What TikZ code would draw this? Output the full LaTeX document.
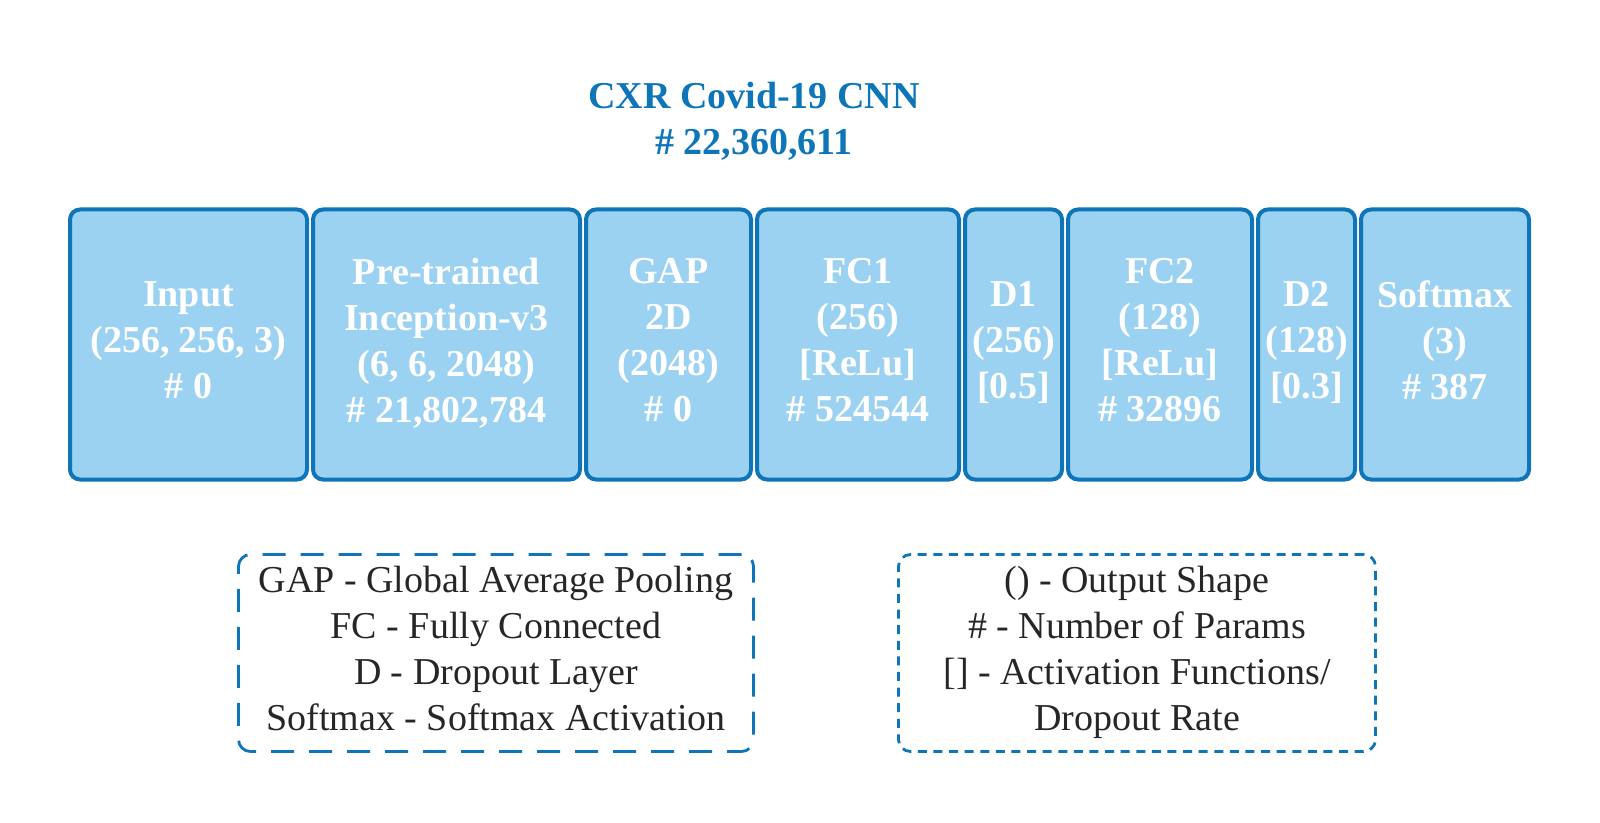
\documentclass[tikz,border=0pt]{standalone}
\usepackage{fontspec}
\setmainfont{Liberation Serif}
\usepackage{tikz}
\usetikzlibrary{positioning}

\definecolor{layerfill}{RGB}{155,209,241}
\definecolor{layerline}{RGB}{14,117,185}
\definecolor{legendtext}{RGB}{38,38,38}

\begin{document}
\begin{tikzpicture}[x=0.5pt,y=-0.5pt,
    layer/.style={draw=layerline,fill=layerfill,line width=2pt,rounded corners=5pt,
        minimum height=135pt,align=center,text=white,inner sep=0pt,outer sep=0pt,
        text depth=4.5pt,font=\fontsize{19}{23}\selectfont\bfseries},
    legendbox/.style={draw=layerline,line width=1.4pt,rounded corners=6pt,
        minimum height=98.5pt,align=center,text=legendtext,inner sep=0pt,
        text depth=4.5pt,font=\fontsize{19}{23}\selectfont}]

    \useasboundingbox (0,0) rectangle (1600,823);

    % Title
    \node [align=center,text=layerline,font=\fontsize{19}{23}\selectfont\bfseries] (title) at (754,121)
        {CXR Covid-19 CNN\\\# 22,360,611};

    % Layers of the network
    \node [layer,minimum width=118.5pt] (input) at (188.5,344.5) {Input\\(256, 256, 3)\\\# 0};
    \node [layer,minimum width=133.5pt] (incep) at (446.5,344.5) {Pre-trained\\Inception-v3\\(6, 6, 2048)\\\# 21,802,784};
    \node [layer,minimum width=82.5pt] (gap) at (668.5,344.5) {GAP\\2D\\(2048)\\\# 0};
    \node [layer,minimum width=101pt] (fc1) at (858,344.5) {FC1\\(256)\\{[ReLu]}\\\# 524544};
    \node [layer,minimum width=48.5pt] (d1) at (1013.5,344.5) {D1\\(256)\\{[0.5]}};
    \node [layer,minimum width=92pt] (fc2) at (1160,344.5) {FC2\\(128)\\{[ReLu]}\\\# 32896};
    \node [layer,minimum width=48.5pt] (d2) at (1306.5,344.5) {D2\\(128)\\{[0.3]}};
    \node [layer,minimum width=84pt] (soft) at (1445,344.5) {Softmax\\(3)\\\# 387};

    % Legends
    \node [legendbox,minimum width=257.5pt,dash pattern=on 11.5pt off 7.5pt] (abbrev) at (496,653)
        {GAP - Global Average Pooling\\FC - Fully Connected\\D - Dropout Layer\\Softmax - Softmax Activation};
    \node [legendbox,minimum width=238.5pt,dash pattern=on 4.5pt off 3.3pt] (notation) at (1137,653)
        {() - Output Shape\\\# - Number of Params\\{[]} - Activation Functions/\\Dropout Rate};

\end{tikzpicture}
\end{document}
